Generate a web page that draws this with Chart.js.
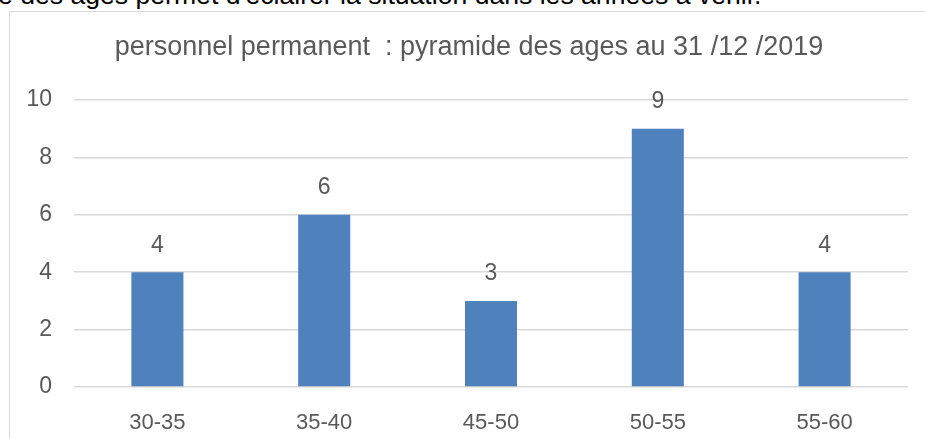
<!DOCTYPE html>
<html>
<head>
<meta charset="utf-8">
<script src="https://cdn.jsdelivr.net/npm/chart.js@4/dist/chart.umd.min.js"></script>
<style>
  html, body { margin: 0; padding: 0; background: #ffffff; overflow: hidden; }
  #wrap { position: relative; width: 925px; height: 438px; overflow: hidden; }
  #intro { position: absolute; left: -2px; top: -20px; font-family: "Liberation Sans", Arial, sans-serif; font-size: 26.6px; color: #000; white-space: nowrap; line-height: 30px; }
  #frame { position: absolute; left: 9px; top: 11px; width: 2000px; height: 2000px; border-left: 1px solid #D9D9D9; border-top: 1px solid #D9D9D9; }
  #c { position: absolute; left: 0; top: 0; }
</style>
</head>
<body>
<div id="wrap">
  <div id="intro">e des ages permet d'éclairer la situation dans les années à venir.</div>
  <div id="frame"></div>
  <canvas id="c" width="925" height="438"></canvas>
</div>
<script>
const titleText = "personnel permanent  : pyramide des ages au 31 /12 /2019";
const categories = ["30-35", "35-40", "45-50", "50-55", "55-60"];
const values = [4, 6, 3, 9, 4];
const yTicks = [0, 2, 4, 6, 8, 10];

const FONT = '"Liberation Sans", Arial, sans-serif';
const GREY = '#595959';

const valueLabels = {
  id: 'valueLabels',
  afterDatasetsDraw(chart) {
    const ctx = chart.ctx;
    const meta = chart.getDatasetMeta(0);
    ctx.save();
    ctx.font = '23px ' + FONT;
    ctx.fillStyle = GREY;
    ctx.textAlign = 'center';
    ctx.textBaseline = 'middle';
    meta.data.forEach((bar, i) => {
      ctx.fillText(String(values[i]), bar.x, bar.y - 27);
    });
    ctx.restore();
  }
};

const chartTitle = {
  id: 'chartTitle',
  afterDraw(chart) {
    const ctx = chart.ctx;
    ctx.save();
    ctx.font = '27px ' + FONT;
    ctx.fillStyle = GREY;
    ctx.textAlign = 'center';
    ctx.textBaseline = 'middle';
    ctx.fillText(titleText, 469, 47.2);
    ctx.restore();
  }
};

new Chart(document.getElementById('c'), {
  type: 'bar',
  data: {
    labels: categories,
    datasets: [{
      data: values,
      backgroundColor: '#4F81BD',
      borderWidth: 0,
      categoryPercentage: 1,
      barPercentage: 0.312
    }]
  },
  options: {
    responsive: false,
    animation: false,
    layout: { padding: { top: 100, right: 17, bottom: 0, left: 0 } },
    plugins: {
      legend: { display: false },
      tooltip: { enabled: false },
      title: { display: false }
    },
    scales: {
      x: {
        grid: { display: false },
        border: { display: false },
        ticks: { color: GREY, font: { family: FONT, size: 22 }, padding: 15 },
        afterFit(scale) { scale.height = 51; }
      },
      y: {
        min: 0,
        max: 10,
        afterBuildTicks(scale) { scale.ticks = yTicks.map(v => ({ value: v })); },
        grid: { color: '#D9D9D9', lineWidth: 1.5, drawTicks: false },
        border: { display: false },
        ticks: { color: GREY, font: { family: FONT, size: 23 }, padding: 22 },
        afterFit(scale) { scale.width = 74; }
      }
    }
  },
  plugins: [valueLabels, chartTitle]
});
</script>
</body>
</html>
